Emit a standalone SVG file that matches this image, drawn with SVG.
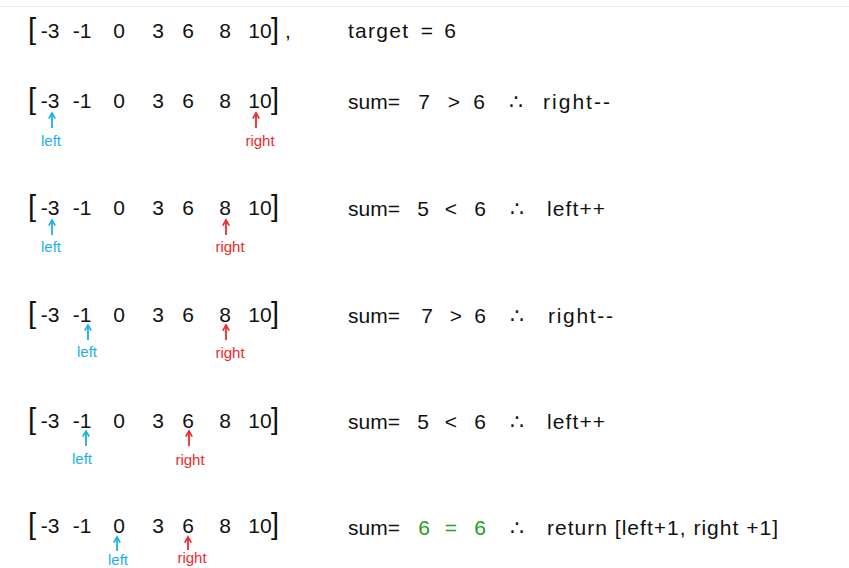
<svg xmlns="http://www.w3.org/2000/svg" width="849" height="568" viewBox="0 0 849 568">
<defs>
<style>
.t{font-family:"Liberation Sans","DejaVu Sans",sans-serif;font-size:21px;fill:#111;}
.c{text-anchor:middle;}
.br{font-family:"Liberation Sans","DejaVu Sans",sans-serif;font-size:29px;fill:#111;}
.g{fill:#22a022;}
.lab{font-family:"Liberation Sans","DejaVu Sans",sans-serif;font-size:15px;text-anchor:middle;}
.lc{fill:#1cb0e6;}
.rc{fill:#f02828;}
.al{stroke:#1cb0e6;stroke-width:1.8;fill:none;marker-end:url(#hl);}
.ar{stroke:#f02828;stroke-width:1.8;fill:none;marker-end:url(#hr);}
</style>
<marker id="hl" viewBox="0 0 10 10" refX="8" refY="5" markerWidth="4.5" markerHeight="4.5" orient="auto" markerUnits="strokeWidth"><path d="M1,1 L8,5 L1,9" fill="none" stroke="#1cb0e6" stroke-width="2"/></marker>
<marker id="hr" viewBox="0 0 10 10" refX="8" refY="5" markerWidth="4.5" markerHeight="4.5" orient="auto" markerUnits="strokeWidth"><path d="M1,1 L8,5 L1,9" fill="none" stroke="#f02828" stroke-width="2"/></marker>
</defs>
<rect width="849" height="568" fill="#fff"/>
<line x1="0" y1="6.5" x2="849" y2="6.5" stroke="#ececec" stroke-width="1"/>

<g id="row1">
<text class="br" x="28" y="39">[</text>
<text class="t c" x="50" y="38">-3</text><text class="t c" x="82" y="38">-1</text><text class="t c" x="119" y="38">0</text><text class="t c" x="158" y="38">3</text><text class="t c" x="188" y="38">6</text><text class="t c" x="225" y="38">8</text><text class="t c" x="260" y="38">10</text>
<text class="br" x="271" y="39">]</text><text class="t" x="285" y="38">,</text>
<text class="t" x="348" y="38" textLength="60">target</text><text class="t c" x="427" y="38">=</text><text class="t c" x="450" y="38">6</text>
</g>

<g id="row2">
<text class="br" x="28" y="109">[</text>
<text class="t c" x="50" y="108">-3</text><text class="t c" x="82" y="108">-1</text><text class="t c" x="119" y="108">0</text><text class="t c" x="158" y="108">3</text><text class="t c" x="188" y="108">6</text><text class="t c" x="225" y="108">8</text><text class="t c" x="260" y="108">10</text>
<text class="br" x="271" y="109">]</text>
<text class="t" x="348" y="109">sum=</text><text class="t c" x="424" y="109">7</text><text class="t c" x="454" y="109">&gt;</text><text class="t c" x="479" y="109">6</text><text class="t c" x="516" y="109">∴</text><text class="t" x="543" y="109" textLength="67">right--</text>
<text class="lab lc" x="51" y="146">left</text><text class="lab rc" x="260" y="146">right</text>
</g>

<g id="row3">
<text class="br" x="28" y="216">[</text>
<text class="t c" x="50" y="215">-3</text><text class="t c" x="82" y="215">-1</text><text class="t c" x="119" y="215">0</text><text class="t c" x="158" y="215">3</text><text class="t c" x="188" y="215">6</text><text class="t c" x="225" y="215">8</text><text class="t c" x="260" y="215">10</text>
<text class="br" x="271" y="216">]</text>
<text class="t" x="348" y="216">sum=</text><text class="t c" x="423" y="216">5</text><text class="t c" x="451" y="216">&lt;</text><text class="t c" x="480" y="216">6</text><text class="t c" x="517" y="216">∴</text><text class="t" x="547" y="216" textLength="58">left++</text>
<text class="lab lc" x="51" y="252">left</text><text class="lab rc" x="230" y="252">right</text>
</g>

<g id="row4">
<text class="br" x="28" y="323">[</text>
<text class="t c" x="50" y="322">-3</text><text class="t c" x="82" y="322">-1</text><text class="t c" x="119" y="322">0</text><text class="t c" x="158" y="322">3</text><text class="t c" x="188" y="322">6</text><text class="t c" x="225" y="322">8</text><text class="t c" x="260" y="322">10</text>
<text class="br" x="271" y="323">]</text>
<text class="t" x="348" y="323">sum=</text><text class="t c" x="427" y="323">7</text><text class="t c" x="456" y="323">&gt;</text><text class="t c" x="480" y="323">6</text><text class="t c" x="517" y="323">∴</text><text class="t" x="548" y="323" textLength="65">right--</text>
<text class="lab lc" x="87" y="357">left</text><text class="lab rc" x="230" y="358">right</text>
</g>

<g id="row5">
<text class="br" x="28" y="429">[</text>
<text class="t c" x="50" y="428">-3</text><text class="t c" x="82" y="428">-1</text><text class="t c" x="119" y="428">0</text><text class="t c" x="158" y="428">3</text><text class="t c" x="188" y="428">6</text><text class="t c" x="225" y="428">8</text><text class="t c" x="260" y="428">10</text>
<text class="br" x="271" y="429">]</text>
<text class="t" x="348" y="429">sum=</text><text class="t c" x="423" y="429">5</text><text class="t c" x="451" y="429">&lt;</text><text class="t c" x="480" y="429">6</text><text class="t c" x="517" y="429">∴</text><text class="t" x="547" y="429" textLength="58">left++</text>
<text class="lab lc" x="82" y="464">left</text><text class="lab rc" x="190" y="465">right</text>
</g>

<g id="row6">
<text class="br" x="28" y="534">[</text>
<text class="t c" x="50" y="533">-3</text><text class="t c" x="82" y="533">-1</text><text class="t c" x="119" y="533">0</text><text class="t c" x="158" y="533">3</text><text class="t c" x="188" y="533">6</text><text class="t c" x="225" y="533">8</text><text class="t c" x="260" y="533">10</text>
<text class="br" x="271" y="534">]</text>
<text class="t" x="348" y="535">sum=</text><text class="t c g" x="424" y="535">6</text><text class="t c g" x="451" y="535">=</text><text class="t c g" x="480" y="535">6</text><text class="t c" x="517" y="535">∴</text><text class="t" x="547" y="535" textLength="231">return [left+1, right +1]</text>
<text class="lab lc" x="118" y="565">left</text><text class="lab rc" x="192" y="563">right</text>
</g>

<g id="connectors">
<path class="al" d="M52,128 V113"/><path class="ar" d="M256,128 V113"/>
<path class="al" d="M52,235 V220"/><path class="ar" d="M226,235 V220"/>
<path class="al" d="M88,340 V325"/><path class="ar" d="M226,340 V325"/>
<path class="al" d="M86,446 V431"/><path class="ar" d="M189,446 V431"/>
<path class="al" d="M117,551 V537"/><path class="ar" d="M188,550 V537"/>
</g>
</svg>
